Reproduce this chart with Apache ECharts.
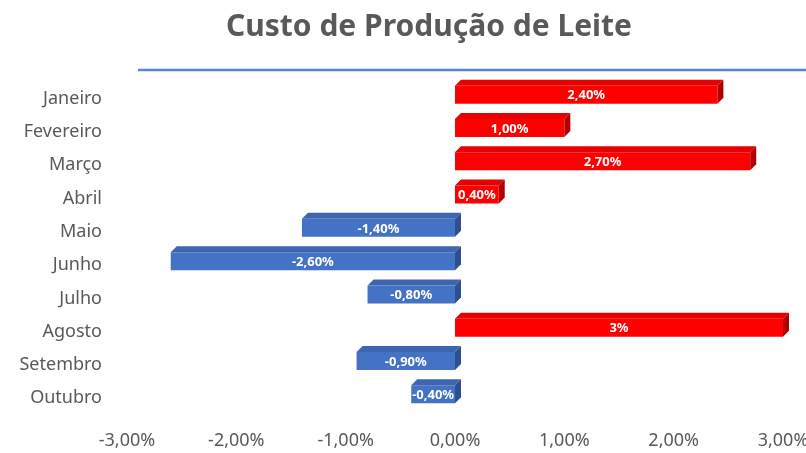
<!DOCTYPE html>
<html>
<head>
<meta charset="utf-8">
<script src="https://cdn.jsdelivr.net/npm/echarts@6/dist/echarts.min.js"></script>
<style>
html,body{margin:0;padding:0;background:#fff;}
#chart{width:806px;height:453px;}
</style>
</head>
<body>
<div id="chart"></div>
<script>
const categories = ['Janeiro','Fevereiro','Março','Abril','Maio','Junho','Julho','Agosto','Setembro','Outubro'];
const values = [2.40, 1.00, 2.70, 0.40, -1.40, -2.60, -0.80, 3.00, -0.90, -0.40];
const valueLabels = ['2,40%','1,00%','2,70%','0,40%','-1,40%','-2,60%','-0,80%','3%','-0,90%','-0,40%'];
const tickLabels = {'-3':'-3,00%','-2':'-2,00%','-1':'-1,00%','0':'0,00%','1':'1,00%','2':'2,00%','3':'3,00%'};

const FONT = 'Noto Sans';
const chart = echarts.init(document.getElementById('chart'), null, {renderer:'canvas'});

const colors = {
  pos: {front:'#FF0000', top:'#E60000', side:'#B00000'},
  neg: {front:'#4472C4', top:'#3E66B0', side:'#2E5090'}
};

function renderItem(params, api){
  const i = api.value(0);
  const v = api.value(1);
  const p0 = api.coord([0, i]);
  const p1 = api.coord([v, i]);
  const band = api.size([0,1])[1];
  const h = band*0.54;
  const c = p0[1];
  const yTop = c - band*0.39;
  const d = 6;
  const x0 = Math.min(p0[0], p1[0]);
  const x1 = Math.max(p0[0], p1[0]);
  const col = v >= 0 ? colors.pos : colors.neg;
  return {
    type:'group',
    children:[
      {type:'polygon', shape:{points:[[x0,yTop],[x0+d,yTop-d],[x1+d,yTop-d],[x1,yTop]]}, style:{fill:col.top}},
      {type:'polygon', shape:{points:[[x1,yTop],[x1+d,yTop-d],[x1+d,yTop+h-d],[x1,yTop+h]]}, style:{fill:col.side}},
      {type:'rect', shape:{x:x0, y:yTop, width:x1-x0, height:h}, style:{fill:col.front}},
      {type:'text', x:(x0+x1)/2, y:yTop+h/2+1, style:{text:valueLabels[i], fill:'#fff', font:'bold 13px "'+FONT+'"', align:'center', verticalAlign:'middle'}}
    ]
  };
}

chart.setOption({
  animation:false,
  title:{
    text:'Custo de Produção de Leite',
    left:424, textAlign:'center', top:7,
    textStyle:{fontFamily:FONT, fontSize:30, fontWeight:'bold', color:'#595959'}
  },
  graphic:[{
    type:'line', shape:{x1:138, y1:70, x2:806, y2:70},
    style:{stroke:'#5B84D0', lineWidth:2.5}
  }],
  grid:{left:127, right:23, top:82, bottom:38, containLabel:false, outerBoundsMode:'none'},
  xAxis:{
    type:'value', min:-3, max:3, interval:1,
    axisLine:{show:false}, axisTick:{show:false}, splitLine:{show:false},
    axisLabel:{margin:17, color:'#595959', fontFamily:FONT, fontSize:18,
      formatter:function(v){return tickLabels[String(Math.round(v))];}}
  },
  yAxis:{
    type:'category', data:categories, inverse:true,
    axisLine:{show:false}, axisTick:{show:false},
    axisLabel:{margin:25, color:'#595959', fontFamily:FONT, fontSize:18}
  },
  series:[{
    type:'custom',
    renderItem:renderItem,
    encode:{x:1, y:0},
    data:values.map(function(v,i){return [i, v];})
  }]
});
</script>
</body>
</html>
